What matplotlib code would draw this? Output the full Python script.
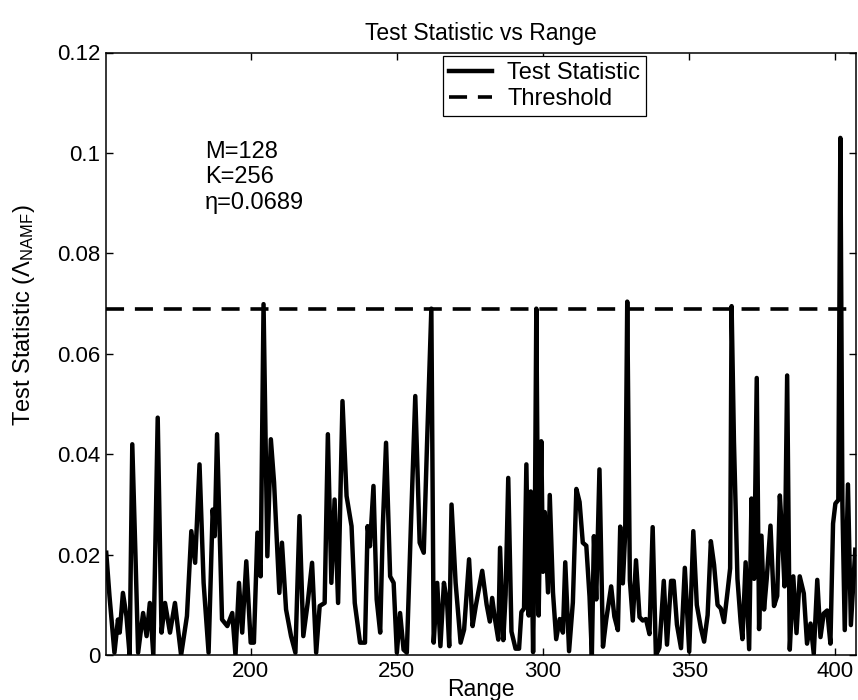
import numpy as np
import matplotlib
matplotlib.use("Agg")
import matplotlib.pyplot as plt
from matplotlib.ticker import FuncFormatter

plt.rcParams['font.family'] = ['Liberation Sans', 'DejaVu Sans']
plt.rcParams['mathtext.fontset'] = 'custom'
plt.rcParams['mathtext.rm'] = 'Liberation Sans'
plt.rcParams['mathtext.it'] = 'Liberation Sans:italic'

# range bins
range_vals = [
    150.6, 151.7, 153.4, 154.6, 155.2, 156.3, 157.5, 158.6, 159.5, 160.6,
    161.5, 163.2, 164.4, 165.5, 166.7, 168.2, 169.5, 170.7, 172.4, 174.1,
    176.2, 178.2, 179.7, 181.0, 182.5, 183.9, 185.6, 187.0, 187.7, 188.5,
    190.2, 192.0, 193.7, 194.8, 196.0, 197.1, 198.5, 200.0, 201.1, 202.3,
    203.4, 204.4, 205.7, 206.9, 208.0, 209.8, 210.7, 212.1, 213.8, 215.3,
    216.7, 218.0, 219.5, 221.0, 222.4, 223.6, 225.3, 226.4, 227.6, 228.7,
    229.9, 231.4, 232.8, 234.5, 235.6, 237.4, 239.1, 240.0, 240.8, 242.0,
    243.1, 244.3, 245.2, 246.3, 247.7, 248.9, 250.0, 251.1, 252.3, 253.4,
    254.8, 256.3, 257.8, 259.2, 260.3, 261.8, 262.6, 263.8, 264.9, 266.1,
    267.2, 267.9, 268.7, 270.1, 271.8, 273.0, 274.7, 275.9, 277.0, 279.2,
    280.7, 281.8, 282.6, 283.5, 284.7, 285.3, 286.4, 287.2, 288.1, 289.2,
    290.6, 291.8, 292.6, 293.5, 294.3, 295.1, 295.8, 296.6, 297.2, 297.7,
    298.5, 299.4, 300.0, 300.6, 301.7, 302.3, 303.4, 304.5, 305.7, 306.8,
    307.6, 308.9, 310.2, 311.4, 312.5, 313.6, 314.8, 315.9, 316.7, 317.4,
    318.2, 319.3, 320.5, 321.6, 323.3, 324.4, 325.6, 326.4, 327.3, 328.1,
    328.8, 329.7, 330.7, 331.8, 333.0, 334.1, 335.2, 336.4, 337.5, 338.6,
    339.8, 341.3, 342.4, 343.8, 344.7, 345.8, 347.2, 348.5, 350.0, 351.4,
    352.6, 354.0, 355.1, 356.3, 357.4, 358.5, 359.7, 360.8, 361.9, 363.1,
    364.0, 364.5, 365.3, 366.5, 367.6, 368.2, 369.3, 370.5, 371.3, 372.2,
    373.1, 373.9, 374.7, 375.6, 376.5, 377.8, 379.0, 380.1, 381.0, 381.8,
    382.6, 383.5, 384.4, 385.6, 386.7, 387.8, 389.2, 390.3, 391.5, 392.6,
    393.8, 394.9, 396.0, 397.2, 398.3, 399.2, 400.0, 401.0, 401.7, 402.4,
    403.2, 404.3, 405.3, 406.8,
]

# test statistic values
stat_vals = [
    0.0204, 0.0118, 0.0005, 0.0071, 0.0045, 0.0124, 0.0078, 0.0000, 0.0420, 0.0197,
    0.0005, 0.0084, 0.0038, 0.0104, 0.0000, 0.0473, 0.0045, 0.0104, 0.0045, 0.0104,
    0.0000, 0.0078, 0.0247, 0.0184, 0.0380, 0.0144, 0.0005, 0.0290, 0.0237, 0.0440,
    0.0071, 0.0058, 0.0084, 0.0000, 0.0144, 0.0045, 0.0187, 0.0025, 0.0025, 0.0244,
    0.0157, 0.0699, 0.0197, 0.0430, 0.0344, 0.0124, 0.0224, 0.0091, 0.0038, 0.0005,
    0.0277, 0.0038, 0.0104, 0.0184, 0.0005, 0.0098, 0.0104, 0.0440, 0.0144, 0.0310,
    0.0104, 0.0506, 0.0317, 0.0257, 0.0104, 0.0025, 0.0025, 0.0257, 0.0217, 0.0337,
    0.0111, 0.0045, 0.0257, 0.0423, 0.0157, 0.0144, 0.0005, 0.0084, 0.0011, 0.0005,
    0.0257, 0.0516, 0.0224, 0.0204, 0.0417, 0.0690, 0.0025, 0.0144, 0.0018, 0.0144,
    0.0104, 0.0018, 0.0300, 0.0144, 0.0025, 0.0051, 0.0191, 0.0058, 0.0098, 0.0168,
    0.0101, 0.0067, 0.0114, 0.0074, 0.0031, 0.0214, 0.0030, 0.0120, 0.0353, 0.0047,
    0.0013, 0.0013, 0.0086, 0.0093, 0.0380, 0.0079, 0.0326, 0.0006, 0.0259, 0.0690,
    0.0079, 0.0426, 0.0166, 0.0285, 0.0125, 0.0319, 0.0125, 0.0032, 0.0072, 0.0045,
    0.0185, 0.0008, 0.0105, 0.0331, 0.0305, 0.0224, 0.0218, 0.0117, 0.0000, 0.0237,
    0.0111, 0.0370, 0.0017, 0.0070, 0.0137, 0.0077, 0.0050, 0.0256, 0.0143, 0.0243,
    0.0704, 0.0149, 0.0069, 0.0189, 0.0076, 0.0069, 0.0072, 0.0042, 0.0255, 0.0000,
    0.0015, 0.0148, 0.0021, 0.0148, 0.0148, 0.0061, 0.0014, 0.0174, 0.0007, 0.0247,
    0.0100, 0.0054, 0.0027, 0.0080, 0.0227, 0.0180, 0.0100, 0.0093, 0.0066, 0.0126,
    0.0173, 0.0695, 0.0426, 0.0152, 0.0066, 0.0032, 0.0185, 0.0012, 0.0312, 0.0152,
    0.0552, 0.0052, 0.0238, 0.0091, 0.0151, 0.0258, 0.0098, 0.0118, 0.0318, 0.0237,
    0.0137, 0.0557, 0.0011, 0.0157, 0.0044, 0.0157, 0.0123, 0.0023, 0.0063, 0.0003,
    0.0150, 0.0036, 0.0083, 0.0089, 0.0023, 0.0262, 0.0302, 0.0309, 0.1030, 0.0300,
    0.0050, 0.0340, 0.0060, 0.0210,
]

threshold = 0.0689
params = ["M=128", "K=256", "\u03b7=0.0689"]
x_ticks = [200, 250, 300, 350, 400]
y_ticks = [0, 0.02, 0.04, 0.06, 0.08, 0.1, 0.12]

fig = plt.figure(figsize=(8.58, 7.0), dpi=100)
ax = fig.add_axes([0.1235, 0.064, 0.874, 0.861])

ax.plot(range_vals, stat_vals, color='black', linewidth=3.2, label='Test Statistic')
ax.axhline(threshold, color='black', linewidth=2.6, linestyle=(0, (5, 3)), label='Threshold')

ax.set_xlim(150.5, 407)
ax.set_ylim(0, 0.12)
ax.set_xticks(x_ticks)
ax.set_yticks(y_ticks)
ax.yaxis.set_major_formatter(FuncFormatter(lambda v, p: '%g' % v))
ax.tick_params(direction='in', length=5, width=1, labelsize=16, top=True, right=True)
ax.tick_params(axis='x', pad=4)
ax.tick_params(axis='y', pad=4)
for s in ax.spines.values():
    s.set_linewidth(1.1)

ax.set_title('Test Statistic vs Range', fontsize=16.5, pad=9)
ax.set_xlabel('Range', fontsize=16.5, labelpad=-3)
ax.set_ylabel(r'Test Statistic ($\Lambda_{\mathrm{NAMF}}$)', fontsize=17)
ax.yaxis.set_label_coords(-0.092, 0.565)

for i, t in enumerate(params):
    ax.text(0.132, 0.835 - i * 0.042, t, transform=ax.transAxes, fontsize=17, va='center')

leg = ax.legend(loc='upper left', bbox_to_anchor=(0.45, 0.994), fontsize=17,
                frameon=True, fancybox=False, edgecolor='black', framealpha=1,
                borderaxespad=0, handlelength=1.8, handletextpad=0.65,
                borderpad=0.25, labelspacing=0.18)
leg.get_frame().set_linewidth(0.9)

fig.savefig('out.png', dpi=100)
